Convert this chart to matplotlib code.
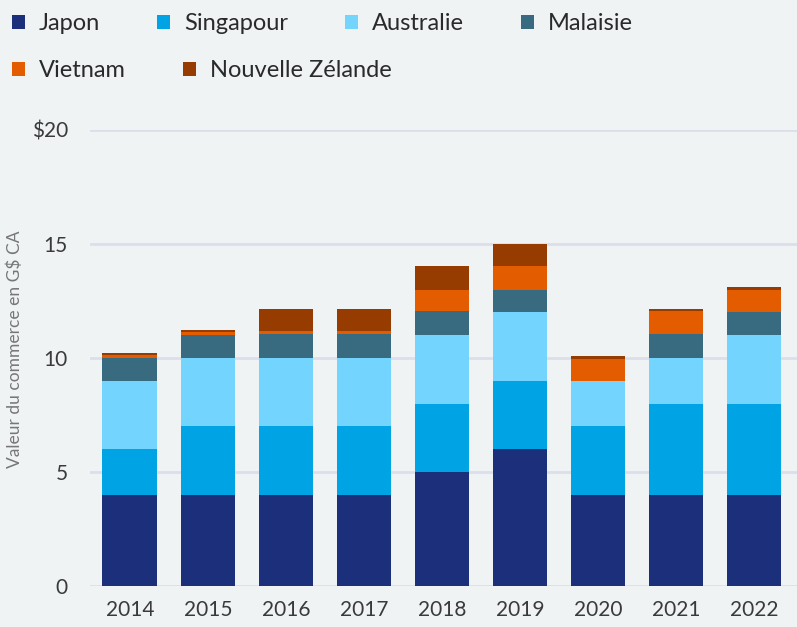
import matplotlib
matplotlib.use("Agg")
import matplotlib.pyplot as plt
import numpy as np

plt.rcParams['font.family'] = ['Lato', 'DejaVu Sans']

years = ["2014", "2015", "2016", "2017", "2018", "2019", "2020", "2021", "2022"]
japon     = [4, 4, 4, 4, 5, 6, 4, 4, 4]
singapour = [2, 3, 3, 3, 3, 3, 3, 4, 4]
australie = [3, 3, 3, 3, 3, 3, 2, 2, 3]
malaisie  = [1, 1, 1.05, 1.05, 1.05, 1, 0, 1.05, 1]
vietnam   = [0.12, 0.12, 0.12, 0.12, 0.95, 1.05, 0.97, 1.0, 1.0]
nz        = [0.12, 0.12, 1.0, 1.0, 1.05, 0.95, 0.12, 0.12, 0.12]

series = [("Japon", japon, "#1b2f7a"),
          ("Singapour", singapour, "#00a4e4"),
          ("Australie", australie, "#73d5fe"),
          ("Malaisie", malaisie, "#386b80"),
          ("Vietnam", vietnam, "#e35c00"),
          ("Nouvelle Zélande", nz, "#973c00")]

bg = "#eff3f4"
fig = plt.figure(figsize=(7.97, 6.27), dpi=100, facecolor=bg)
ax = fig.add_axes([90/797, 1-586/627, 707/797, 456/627], facecolor=bg)

x = np.arange(len(years))
bottom = np.zeros(len(years))
handles = []
for name, vals, col in series:
    b = ax.bar(x, vals, 0.7, bottom=bottom, color=col, label=name, zorder=3)
    handles.append(b)
    bottom += np.array(vals)

ax.set_ylim(0, 20)
ax.set_xlim(-0.51, 8.55)
ax.set_yticks([0, 5, 10, 15, 20])
ax.set_yticklabels(["0", "5", "10", "15", "$20"])
ax.set_xticks(x)
ax.set_xticklabels(years)
ax.grid(axis='y', color="#dcdfeb", linewidth=2, zorder=0)
for s in ax.spines.values():
    s.set_visible(False)
ax.tick_params(axis='both', length=0, labelsize=15, colors="#3a3a3a")
ax.tick_params(axis='y', pad=16)
ax.tick_params(axis='x', pad=10)
ax.set_ylabel("Valeur du commerce en G$ CA", fontsize=12.5, color="#777777")
ax.yaxis.set_label_coords(-0.095, 0.52)

common = dict(loc='upper left', frameon=False, fontsize=17,
              handlelength=0.55, handleheight=0.55, handletextpad=0.6,
              columnspacing=2.4, borderaxespad=0.0, borderpad=0.0)
leg1 = fig.legend(handles[:4], [s[0] for s in series[:4]], ncol=4,
                  bbox_to_anchor=(12/797, 1-13/627), **common)
leg2 = fig.legend(handles[4:], [s[0] for s in series[4:]], ncol=2,
                  bbox_to_anchor=(12/797, 1-60/627), **common)
for leg in (leg1, leg2):
    for t in leg.get_texts():
        t.set_color("#2a2a2a")

fig.savefig("out.png", dpi=100, facecolor=bg)
